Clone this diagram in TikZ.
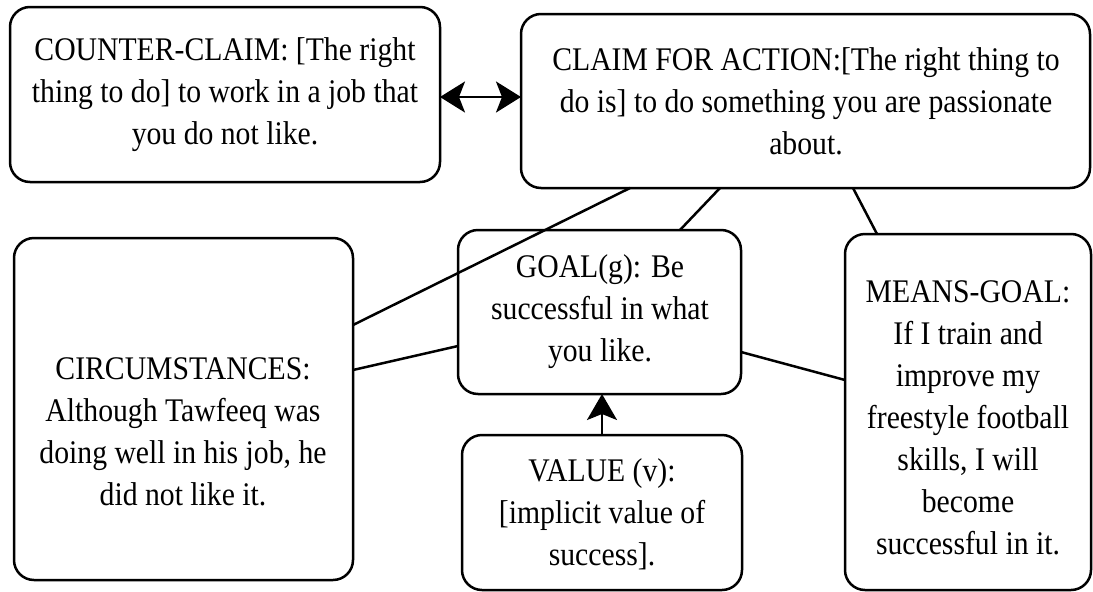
\documentclass[tikz,border=0pt]{standalone}
\usepackage{fontspec}
\setmainfont[FakeStretch=0.9]{Liberation Serif}
\usetikzlibrary{arrows.meta}
\begin{document}
\begin{tikzpicture}[x=1pt,y=-1pt,
  box/.style={draw, line width=2.5pt, rounded corners=20pt, fill=white,
    inner sep=0pt, outer sep=0pt},
  txt/.style={align=center, inner sep=0pt, font=\fontsize{33}{42}\selectfont},
  link/.style={line width=2.5pt},
  tip/.style={line width=2.5pt, -{Stealth[length=26pt,width=30pt,inset=6pt]}},
  tips/.style={line width=2.5pt, {Stealth[length=25pt,width=31pt,inset=6pt]}-{Stealth[length=25pt,width=31pt,inset=6pt]}}
]
\useasboundingbox (0,0) rectangle (1093,592);

% boxes
\node[box, minimum width=430pt, minimum height=175pt] (counter) at (225,94.5) {};
\node[box, minimum width=569pt, minimum height=174pt] (claim) at (805.5,101) {};
\node[box, minimum width=339pt, minimum height=342pt] (circ) at (183.5,409) {};
\node[box, minimum width=283pt, minimum height=164pt] (goal) at (599.5,312) {};
\node[box, minimum width=280pt, minimum height=155pt] (value) at (602,512.5) {};
\node[box, minimum width=246pt, minimum height=356pt] (means) at (968,412) {};

% texts
\node[txt] (counterT) at (225,95) {COUNTER-CLAIM: [The right\\thing to do] to work in a job that\\you do not like.};
\node[txt] (claimT) at (806,101) {CLAIM FOR ACTION:[The right thing to\\do is] to do something you are passionate\\about.};
\node[txt] (circT) at (183,432) {CIRCUMSTANCES:\\Although Tawfeeq was\\doing well in his job, he\\did not like it.};
\node[txt] (goalT) at (600,312) {GOAL(g): Be\\successful in what\\you like.};
\node[txt] (valueT) at (602,514) {VALUE (v):\\{}[implicit value of\\success].};
\node[txt] (meansT) at (968,418) {MEANS-GOAL:\\If I train and\\improve my\\freestyle football\\skills, I will\\become\\successful in it.};

% connectors
\draw[link] ([xshift=109pt]claim.south west) -- ([yshift=-87pt]circ.north east);
\draw[link] ([xshift=199pt]claim.south west) -- ([xshift=222pt]goal.north west);
\draw[link] ([xshift=332pt]claim.south west) -- ([xshift=32pt]means.north west);
\draw[link] ([yshift=-132pt]circ.north east) -- ([yshift=-116pt]goal.north west);
\draw[link] ([yshift=-122pt]goal.north east) -- ([yshift=-146pt]means.north west);
\draw[tip] (value.north) -- (value.north |- goal.south);
\draw[tips] ([yshift=-2.5pt]counter.east) -- ([yshift=-2.5pt]counter.east -| claim.west);
\end{tikzpicture}
\end{document}
